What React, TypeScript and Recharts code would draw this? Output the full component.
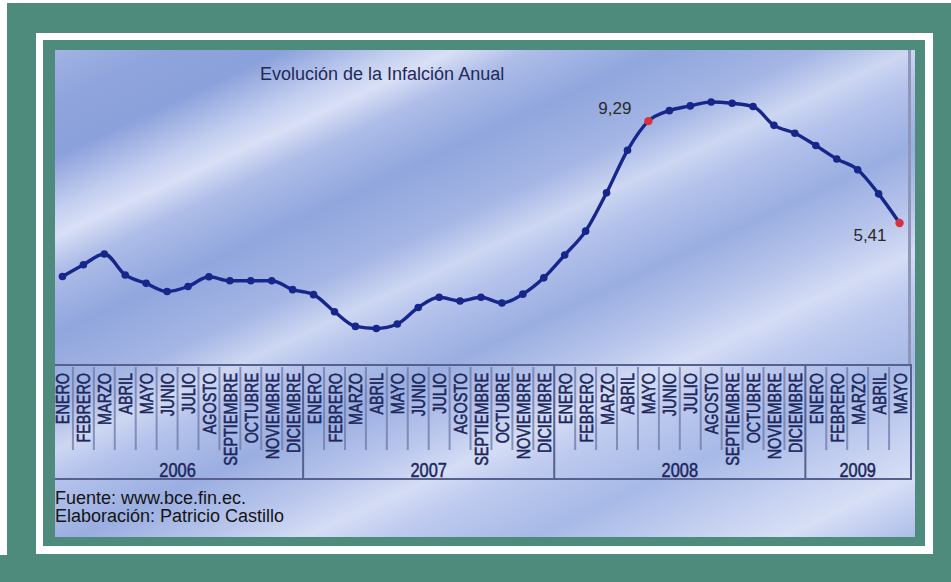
import React from 'react';
import { LineChart, Line, XAxis, YAxis } from 'recharts';

// ---------- data ----------
const monthNames = ['ENERO', 'FEBRERO', 'MARZO', 'ABRIL', 'MAYO', 'JUNIO', 'JULIO', 'AGOSTO', 'SEPTIEMBRE', 'OCTUBRE', 'NOVIEMBRE', 'DICIEMBRE'];
const years = ['2006', '2007', '2008', '2009'];
const monthsPerYear = [12, 12, 12, 5];
const inflation = [
  3.37, 3.82, 4.23, 3.43, 3.11, 2.80, 2.99, 3.36, 3.21, 3.21, 3.21, 2.87,
  2.68, 2.03, 1.47, 1.39, 1.56, 2.19, 2.58, 2.44, 2.58, 2.36, 2.70, 3.32,
  4.19, 5.10, 6.56, 8.18, 9.29, 9.69, 9.87, 10.02, 9.97, 9.85, 9.13, 8.83,
  8.36, 7.85, 7.44, 6.52, 5.41,
];
const highlightLabels: Record<number, string> = { 28: '9,29', 40: '5,41' };
const title = 'Evolución de la Infalción Anual';
const sourceText = 'Fuente: www.bce.fin.ec.';
const authorText = 'Elaboración: Patricio Castillo';

type Row = { key: string; month: string; year: string; monthIndex: number; yearIndex: number; value: number };
const data: Row[] = [];
{
  let k = 0;
  years.forEach((y, yi) => {
    for (let m = 0; m < monthsPerYear[yi]; m++) {
      data.push({ key: `${monthNames[m]} ${y}`, month: monthNames[m], year: y, monthIndex: m, yearIndex: yi, value: inflation[k++] });
    }
  });
}
const yearStart: number[] = [];
{
  let s = 0;
  monthsPerYear.forEach((n) => { yearStart.push(s); s += n; });
}

// ---------- layout ----------
const W = 951;
const H = 582;
const PLOT_LEFT = 52;
const PLOT_RIGHT = 910;
const PLOT_TOP = 50;
const PLOT_BOTTOM = 365;
const AXIS_H = 115;
const BW = (PLOT_RIGHT - PLOT_LEFT) / data.length;
const TEAL = '#4f8b7d';
const SANS = "'Liberation Sans', Arial, sans-serif";
const LABEL_COLOR = '#1d275a';

const labelOffsets: Record<number, { dx: number; dy: number }> = {
  28: { dx: -17, dy: -7 },
  40: { dx: -13, dy: 18 },
};

const MonthTick = (props: any) => {
  const { x } = props;
  const i: number = props.index ?? props.payload?.index ?? 0;
  const d = data[i];
  if (!d) return null;
  const half = BW / 2;
  const lx = x + 7;
  const ly = PLOT_BOTTOM + 8;
  const els: any[] = [];
  els.push(
    <text key="t" x={0} y={0} transform={`translate(${lx},${ly}) rotate(-90) scale(0.8,1)`} textAnchor="end"
      fontFamily={SANS} fontSize={18} fill={LABEL_COLOR} stroke={LABEL_COLOR} strokeWidth={0.55}>{d.month}</text>
  );
  const isLast = i === data.length - 1;
  if (!isLast) {
    if (d.monthIndex === 11) {
      els.push(<line key="ys" x1={x + half} x2={x + half} y1={PLOT_BOTTOM} y2={PLOT_BOTTOM + AXIS_H} stroke="#56618f" strokeWidth={2} />);
    } else {
      els.push(<line key="ms" x1={x + half} x2={x + half} y1={PLOT_BOTTOM + 2} y2={PLOT_BOTTOM + 85} stroke="#6e7aa6" strokeOpacity={0.75} strokeWidth={2} />);
    }
  }
  const yi = d.yearIndex;
  const center = yearStart[yi] + (monthsPerYear[yi] - 1) / 2;
  if (i === Math.floor(center)) {
    const cx = x + (center - i) * BW;
    els.push(
      <text key="y" x={0} y={0} transform={`translate(${cx},${PLOT_BOTTOM + 112}) scale(0.82,1)`} textAnchor="middle"
        fontFamily={SANS} fontSize={20} fill={LABEL_COLOR} stroke={LABEL_COLOR} strokeWidth={0.5}>{d.year}</text>
    );
  }
  return <g>{els}</g>;
};

const renderDot = (props: any) => {
  const { cx, cy, index } = props;
  const lab = highlightLabels[index];
  if (lab) {
    const off = labelOffsets[index] || { dx: -15, dy: -8 };
    return (
      <g key={`dot-${index}`}>
        <circle cx={cx} cy={cy} r={4.2} fill="#d7323f" />
        <text x={cx + off.dx} y={cy + off.dy} textAnchor="end" fontFamily={SANS} fontSize={17} fill="#2a2a2a">{lab}</text>
      </g>
    );
  }
  return <circle key={`dot-${index}`} cx={cx} cy={cy} r={3.8} fill="#16268a" />;
};

const bgGradient = `linear-gradient(155deg,
  #a2b3e3 0%, #8fa4dc 6%, #8ba1db 12%, #c3cff0 18%, #d9e0f6 21%, #aebde8 25%,
  #90a6dd 32%, #a5b6e5 40%, #cdd7f2 45%, #b4c2eb 49%, #9aaee1 56%, #b9c6ec 63%,
  #d5ddf5 68%, #bfcbef 72%, #a7b9e7 80%, #c6d1f1 88%, #d7dff5 93%, #aebeea 100%)`;

const abs = (l: number, t: number, w: number, h: number, extra: any = {}) => ({
  position: 'absolute' as const, left: l, top: t, width: w, height: h, ...extra,
});

export default function App() {
  return (
    <div style={{ position: 'relative', width: W, height: H, background: '#ffffff', overflow: 'hidden' }}>
      <style>{`body{margin:0;}`}</style>
      {/* frame */}
      <div style={abs(7, 3, W - 7, H - 3, { background: TEAL })} />
      <div style={abs(0, 555, 7, H - 555, { background: TEAL })} />
      <div style={abs(36, 33, 933 - 36, 554 - 33, { background: '#ffffff' })} />
      <div style={abs(43, 40, 925 - 43, 546 - 40, { background: TEAL })} />
      <div style={abs(55, 50, 915 - 55, 537 - 50, { background: bgGradient })} />
      {/* plot right border */}
      <div style={abs(908, 50, 3, PLOT_BOTTOM - 50, { background: '#8f97b8' })} />
      {/* axis table border */}
      <div style={abs(55, PLOT_BOTTOM - 1, 912 - 55, AXIS_H + 1, { border: '2px solid #56618f', borderLeft: 'none', boxSizing: 'border-box' })} />
      {/* texts */}
      <div style={abs(260, 62, 400, 24, { fontFamily: SANS, fontSize: 18, color: '#1f2a5a', whiteSpace: 'nowrap', lineHeight: '24px' })}>{title}</div>
      <div style={abs(55, 487, 400, 22, { fontFamily: SANS, fontSize: 18, color: '#141414', whiteSpace: 'nowrap', lineHeight: '22px' })}>{sourceText}</div>
      <div style={abs(55, 505, 400, 22, { fontFamily: SANS, fontSize: 18, color: '#141414', whiteSpace: 'nowrap', lineHeight: '22px' })}>{authorText}</div>
      {/* chart */}
      <div style={abs(0, 0, W, H)}>
        <LineChart width={W} height={H} data={data}
          margin={{ top: PLOT_TOP, left: PLOT_LEFT, right: W - PLOT_RIGHT, bottom: H - PLOT_BOTTOM - AXIS_H }}>
          <XAxis dataKey="key" scale="band" interval={0} height={AXIS_H} axisLine={false} tickLine={false}
            tick={(p: any) => <MonthTick {...p} />} />
          <YAxis hide width={0} domain={[0, 12]} type="number" />
          <Line type="monotone" dataKey="value" stroke="#16268a" strokeWidth={3.4}
            dot={renderDot} activeDot={false} isAnimationActive={false} />
        </LineChart>
      </div>
    </div>
  );
}
